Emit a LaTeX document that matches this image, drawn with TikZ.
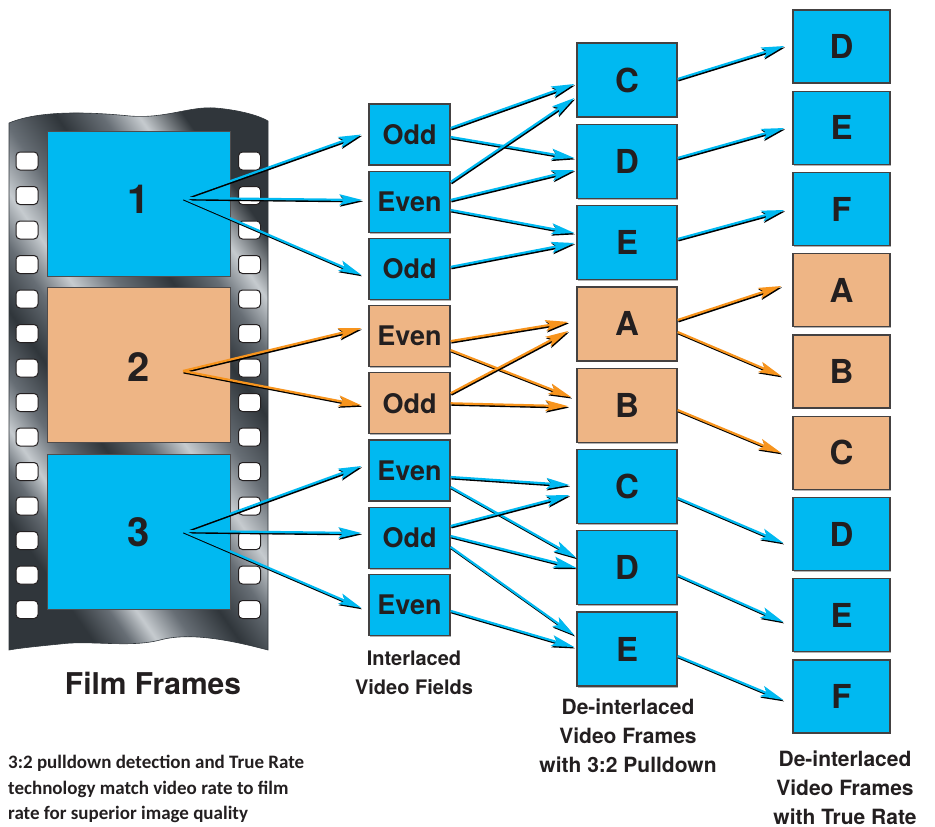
\documentclass[tikz,border=0pt]{standalone}
\usepackage{fontspec}
\setmainfont{TeX Gyre Heros}
\newfontfamily\notefont{Carlito}
\usetikzlibrary{arrows.meta,calc,shadows}

\definecolor{vcyan}{HTML}{00B9F1}
\definecolor{vpeach}{HTML}{EEB585}
\definecolor{vorange}{HTML}{F7941D}
\definecolor{ink}{HTML}{231F20}
\definecolor{mdark}{HTML}{30363B}
\definecolor{mmid}{HTML}{676E75}
\definecolor{mlight}{HTML}{C6CBCF}

% brushed metal look for the film base
\pgfdeclarehorizontalshading{metal}{100bp}{%
  color(0bp)=(mdark); color(25bp)=(mdark); color(29bp)=(mmid);
  color(32bp)=(mlight); color(36bp)=(mmid); color(41bp)=(mdark);
  color(46bp)=(mmid); color(50bp)=(mlight); color(55bp)=(mmid);
  color(61bp)=(mdark); color(66bp)=(mmid); color(70bp)=(mlight);
  color(75bp)=(mdark); color(100bp)=(mdark)}

% one connector: dark offset copy first, coloured line on top
\newcommand\arrowlink[3]{%
  \draw[arrshadow] #2 -- #3;
  \draw[#1] #2 -- #3;}

\begin{document}
\begin{tikzpicture}[x=1pt,y=-1pt,
  arrtip/.style={-{Stealth[length=23pt,width=11pt,inset=5pt]}},
  cyanarr/.style={draw=vcyan,line width=2.2pt,arrtip},
  orangearr/.style={draw=vorange,line width=2.2pt,arrtip},
  arrshadow/.style={draw=black,line width=2.2pt,arrtip,
    transform canvas={shift={(0.7,1.4)}}},
  box/.style={draw=ink!85,line width=1.3pt,text=ink,inner sep=0pt,
    drop shadow={shadow xshift=1.4pt,shadow yshift=-1.4pt,fill=black!30,opacity=1}},
  fieldbox/.style={box,minimum width=81pt,minimum height=61pt,
    font=\bfseries\fontsize{27}{30}\selectfont},
  pullbox/.style={box,minimum width=100pt,minimum height=74pt,
    font=\bfseries\fontsize{33}{36}\selectfont},
  truebox/.style={box,minimum width=97pt,minimum height=73pt,
    font=\bfseries\fontsize{33}{36}\selectfont},
  filmframe/.style={draw=ink!80,line width=0.9pt,inner sep=0pt,minimum width=183pt},
  hole/.style={draw=ink,line width=1pt,fill=white,rounded corners=4pt,
    minimum width=22pt,minimum height=18pt,inner sep=0pt},
  framenum/.style={text=ink,font=\bfseries\fontsize{40}{44}\selectfont},
  caption/.style={text=ink,align=center,font=\bfseries\fontsize{21}{29}\selectfont},
]
\useasboundingbox (0,0) rectangle (935,827);

% ---------- film strip ----------
\shade[shading=metal,shading angle=35,draw=mdark,line width=0.6pt]
  (9,650) -- (9,123)
  .. controls (40,110) and (90,112) .. (130,116)
  .. controls (165,119) and (190,106) .. (215,108)
  .. controls (240,110) and (260,116) .. (268,121)
  -- (268,650)
  .. controls (230,640) and (190,632) .. (160,640)
  .. controls (130,648) and (90,640) .. (60,644)
  .. controls (40,646) and (20,648) .. (9,650) -- cycle;

\foreach \k in {0,...,13}{
  \node[hole] (hl\k) at (27,{161+34.5*\k}) {};
  \node[hole] (hr\k) at (249.5,{161+34.5*\k}) {};
}

\node[filmframe,fill=vcyan,minimum height=145pt]  (fr1) at (138.5,203.5) {};
\node[filmframe,fill=vpeach,minimum height=155pt] (fr2) at (138.5,364.5) {};
\node[filmframe,fill=vcyan,minimum height=155pt]  (fr3) at (138.5,531.5) {};
\node[framenum] (num1) at (139,199) {1};
\node[framenum] (num2) at (139,367) {2};
\node[framenum] (num3) at (139,532) {3};
\coordinate (src1) at (183,198);
\coordinate (src2) at (183,371);
\coordinate (src3) at (183,531);

% ---------- boxes ----------
\foreach \t/\c [count=\i] in {Odd/vcyan,Even/vcyan,Odd/vcyan,Even/vpeach,
    Odd/vpeach,Even/vcyan,Odd/vcyan,Even/vcyan}
  \node[fieldbox,fill=\c] (fd\i) at (409.5,{134.5+67.2*(\i-1)}) {\t};
\foreach \t/\c [count=\i] in {C/vcyan,D/vcyan,E/vcyan,A/vpeach,B/vpeach,
    C/vcyan,D/vcyan,E/vcyan}
  \node[pullbox,fill=\c] (pd\i) at (627,{80+81.3*(\i-1)}) {\t};
\foreach \t/\c [count=\i] in {D/vcyan,E/vcyan,F/vcyan,A/vpeach,B/vpeach,
    C/vpeach,D/vcyan,E/vcyan,F/vcyan}
  \node[truebox,fill=\c] (tr\i) at (841.5,{46.5+81.25*(\i-1)}) {\t};

% ---------- film frames to fields ----------
\arrowlink{cyanarr}{(src1)}{($(fd1.west)+(-7,0)$)}
\arrowlink{cyanarr}{(src1)}{($(fd2.west)+(-6,-1.7)$)}
\arrowlink{cyanarr}{(src1)}{($(fd3.west)+(-7,6)$)}
\arrowlink{orangearr}{(src2)}{($(fd4.west)+(-7,-8)$)}
\arrowlink{orangearr}{(src2)}{($(fd5.west)+(-7,2)$)}
\arrowlink{cyanarr}{(src3)}{($(fd6.west)+(-7,-4.5)$)}
\arrowlink{cyanarr}{(src3)}{($(fd7.west)+(-7,-4.7)$)}
\arrowlink{cyanarr}{(src3)}{($(fd8.west)+(-7,3)$)}

% ---------- fields to 3:2 frames ----------
\arrowlink{cyanarr}{($(fd1.east)+(0,-6.5)$)}{($(pd1.west)+(-2,4)$)}
\arrowlink{cyanarr}{($(fd1.east)+(0,2.5)$)}{($(pd2.west)+(-2,-3.3)$)}
\arrowlink{cyanarr}{($(fd2.east)+(0,-19.7)$)}{($(pd1.west)+(-2,18)$)}
\arrowlink{cyanarr}{($(fd2.east)+(0,-1.7)$)}{($(pd2.west)+(-2,8.7)$)}
\arrowlink{cyanarr}{($(fd2.east)+(0,8.3)$)}{($(pd3.west)+(-2,-9.6)$)}
\arrowlink{cyanarr}{($(fd3.east)+(0,-2)$)}{($(pd3.west)+(-2,0.4)$)}
\arrowlink{orangearr}{($(fd4.east)+(0,5)$)}{($(pd4.west)+(-8,-2)$)}
\arrowlink{orangearr}{($(fd4.east)+(0,14)$)}{($(pd5.west)+(-5,-8)$)}
\arrowlink{orangearr}{($(fd5.east)+(0,-10)$)}{($(pd4.west)+(-8,7)$)}
\arrowlink{orangearr}{($(fd5.east)+(0,0)$)}{($(pd5.west)+(-8,1)$)}
\arrowlink{cyanarr}{($(fd6.east)+(0,6.5)$)}{($(pd6.west)+(-7,-1.5)$)}
\arrowlink{cyanarr}{($(fd6.east)+(0,16.5)$)}{($(pd7.west)+(0,-10)$)}
\arrowlink{cyanarr}{($(fd7.east)+(0,-11.7)$)}{($(pd6.west)+(-7,8.5)$)}
\arrowlink{cyanarr}{($(fd7.east)+(0,-1.7)$)}{($(pd7.west)+(0,0)$)}
\arrowlink{cyanarr}{($(fd7.east)+(0,9.3)$)}{($(pd8.west)+(-2,-14)$)}
\arrowlink{cyanarr}{($(fd8.east)+(0,6)$)}{($(pd8.west)+(-2,-2)$)}

% ---------- 3:2 frames to true-rate frames ----------
\arrowlink{cyanarr}{($(pd1.east)+(0,-1)$)}{($(tr1.west)+(-8,-0.5)$)}
\arrowlink{cyanarr}{($(pd2.east)+(0,-3.3)$)}{($(tr2.west)+(-8,0.25)$)}
\arrowlink{cyanarr}{($(pd3.east)+(0,-3.6)$)}{($(tr3.west)+(-8,1)$)}
\arrowlink{orangearr}{($(pd4.east)+(0,-3.9)$)}{($(tr4.west)+(-11,-4.25)$)}
\arrowlink{orangearr}{($(pd4.east)+(0,8.1)$)}{($(tr5.west)+(-11,4.5)$)}
\arrowlink{orangearr}{($(pd5.east)+(0,4.8)$)}{($(tr6.west)+(-11,0.25)$)}
\arrowlink{cyanarr}{($(pd6.east)+(0,11.5)$)}{($(tr7.west)+(-9,9)$)}
\arrowlink{cyanarr}{($(pd7.east)+(0,7.2)$)}{($(tr8.west)+(-9,6.75)$)}
\arrowlink{cyanarr}{($(pd8.east)+(0,6.9)$)}{($(tr9.west)+(-9,3.5)$)}

% ---------- labels ----------
\node[text=ink,font=\bfseries\fontsize{30}{34}\selectfont] (lblfilm) at (153,683) {Film Frames};
\node[caption,font=\bfseries\fontsize{20}{29}\selectfont] (lblfields) at (414,672.5) {Interlaced\\Video Fields};
\node[caption] (lblpull) at (628,736) {De-interlaced\\Video Frames\\with 3:2 Pulldown};
\node[caption] (lbltrue) at (845,787.5) {De-interlaced\\Video Frames\\with True Rate};
\node[text=ink,anchor=west,align=left,inner sep=0pt,
  font=\notefont\bfseries\fontsize{19}{25.5}\selectfont] (note) at (8,789)
  {3:2 pulldown detection and True Rate\\technology match video rate to film\\rate for superior image quality};
\end{tikzpicture}
\end{document}
